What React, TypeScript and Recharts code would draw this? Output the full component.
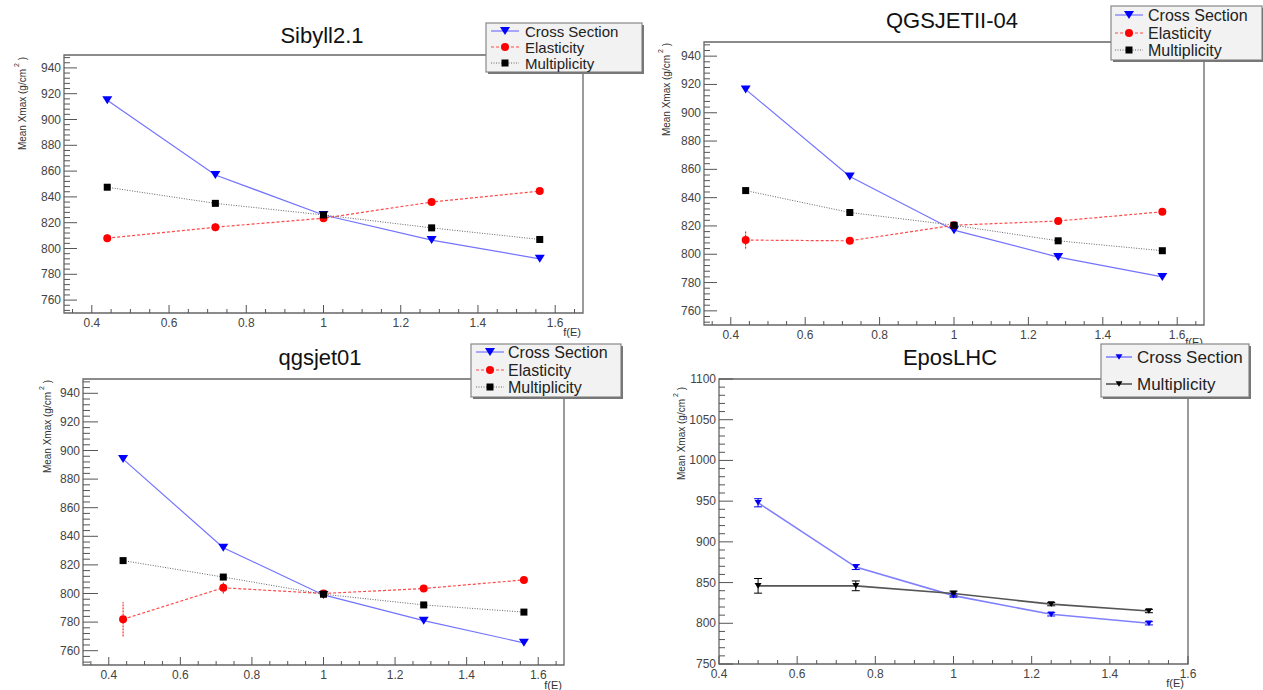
import React from 'react';
import { LineChart, Line, XAxis, YAxis, ReferenceArea, ErrorBar } from 'recharts';

const CANVAS_W = 1263;
const CANVAS_H = 690;
const FONT = '"Liberation Sans", Arial, Helvetica, sans-serif';

// energy scaling factor f(E) used in each simulation
const scaleFactors = [0.44, 0.72, 1.0, 1.28, 1.56];
const eposFactors = [0.5, 0.75, 1.0, 1.25, 1.5];

// Sibyll2.1 mean Xmax (g/cm2)
const sibyllCross = [915, 857, 826, 806.5, 792];
const sibyllCrossErr = [1.5, 1.5, 1.5, 1.5, 1.5];
const sibyllElast = [808, 816.5, 823.5, 836, 844.5];
const sibyllElastErr = [3, 3, 2, 2, 1.5];
const sibyllMult = [847.5, 835, 826, 816, 807];
const sibyllMultErr = [1, 1, 1, 1, 1];

// QGSJETII-04
const qgsIICross = [916.5, 855, 817, 798, 784];
const qgsIICrossErr = [1.5, 1.5, 1.5, 1.5, 1.5];
const qgsIIElast = [810, 809.5, 820.5, 823.5, 830];
const qgsIIElastErr = [6, 2, 2, 2, 1.5];
const qgsIIMult = [845, 829.5, 820.5, 809.5, 802.5];
const qgsIIMultErr = [1, 1, 1, 1, 1];

// qgsjet01
const qgs01Cross = [894, 832, 799, 781, 765.5];
const qgs01CrossErr = [1.5, 1.5, 1.5, 1.5, 1.5];
const qgs01Elast = [782, 804, 800, 803.5, 809.5];
const qgs01ElastErr = [12, 4, 2, 2, 1.5];
const qgs01Mult = [823, 811.5, 799.5, 792, 787];
const qgs01MultErr = [1, 1, 1, 1, 1];

// EposLHC
const eposCross = [948, 869, 834, 811, 800];
const eposCrossErr = [5, 3, 2, 2, 2];
const eposMult = [846, 846, 836.5, 823.5, 815];
const eposMultErr = [9, 6, 3, 2, 2];

// axis labels
const xLabels = [0.4, 0.6, 0.8, 1, 1.2, 1.4, 1.6];
const xmaxLabels = [760, 780, 800, 820, 840, 860, 880, 900, 920, 940];
const eposLabels = [750, 800, 850, 900, 950, 1000, 1050, 1100];

const steps = (from: number, to: number, step: number) => {
  const n = Math.round((to - from) / step);
  return Array.from({ length: n + 1 }, (_, i) => +(from + i * step).toFixed(4));
};

type MarkerKind = 'tri' | 'circle' | 'square';
interface SeriesStyle {
  stroke: string;
  width: number;
  dash?: string;
  marker: MarkerKind;
  color: string;
  size: number;
  cap: number;
  errDash?: string;
}
interface Series { name: string; values: number[]; errors: number[]; style: SeriesStyle }

const crossStyle: SeriesStyle = { stroke: '#7373ff', width: 1.2, marker: 'tri', color: '#0000ff', size: 10, cap: 0 };
const elastStyle: SeriesStyle = { stroke: '#ff4a4a', width: 1.2, dash: '3 2', marker: 'circle', color: '#ff0000', size: 8, cap: 0, errDash: '2 1' };
const multStyle: SeriesStyle = { stroke: '#666', width: 1, dash: '1 1.5', marker: 'square', color: '#000', size: 7, cap: 0 };
const eposCrossStyle: SeriesStyle = { stroke: '#8080ff', width: 1.6, marker: 'tri', color: '#0000ee', size: 7, cap: 4 };
const eposMultStyle: SeriesStyle = { stroke: '#555', width: 1.6, marker: 'tri', color: '#000', size: 7, cap: 4 };

interface Box { left: number; top: number; right: number; bottom: number }
interface PanelDef {
  title: string;
  xs: number[];
  series: Series[];
  frame: Box;
  xDomain: [number, number];
  yDomain: [number, number];
  xTicks: number[];
  yTicks: number[];
  yMajors: number[];
  yTickLen: [number, number];
  titleAt: [number, number];
  yTitleAt: [number, number];
  xTitleAt: [number, number];
  legend: Box & { rows: number[]; sample: [number, number]; textX: number; fontSize: number };
}

const panels: PanelDef[] = [
  {
    title: 'Sibyll2.1',
    xs: scaleFactors,
    series: [
      { name: 'Cross Section', values: sibyllCross, errors: sibyllCrossErr, style: crossStyle },
      { name: 'Elasticity', values: sibyllElast, errors: sibyllElastErr, style: elastStyle },
      { name: 'Multiplicity', values: sibyllMult, errors: sibyllMultErr, style: multStyle },
    ],
    frame: { left: 64, top: 55, right: 583, bottom: 313 },
    xDomain: [0.328, 1.672],
    yDomain: [750, 950],
    xTicks: steps(0.35, 1.65, 0.05),
    yTicks: steps(752, 948, 4),
    yMajors: xmaxLabels,
    yTickLen: [13, 6],
    titleAt: [322, 35],
    yTitleAt: [22, 57],
    xTitleAt: [581, 332],
    legend: { left: 486, top: 23, right: 642, bottom: 72, rows: [31, 47, 63], sample: [491, 519], textX: 525, fontSize: 15 },
  },
  {
    title: 'QGSJETII-04',
    xs: scaleFactors,
    series: [
      { name: 'Cross Section', values: qgsIICross, errors: qgsIICrossErr, style: crossStyle },
      { name: 'Elasticity', values: qgsIIElast, errors: qgsIIElastErr, style: elastStyle },
      { name: 'Multiplicity', values: qgsIIMult, errors: qgsIIMultErr, style: multStyle },
    ],
    frame: { left: 704, top: 42, right: 1204, bottom: 325 },
    xDomain: [0.328, 1.672],
    yDomain: [750, 950],
    xTicks: steps(0.35, 1.65, 0.05),
    yTicks: steps(752, 948, 4),
    yMajors: xmaxLabels,
    yTickLen: [13, 6],
    titleAt: [952, 20],
    yTitleAt: [666, 43],
    xTitleAt: [1203, 342],
    legend: { left: 1111, top: 6, right: 1262, bottom: 60, rows: [15, 33, 50], sample: [1115, 1143], textX: 1148, fontSize: 16 },
  },
  {
    title: 'qgsjet01',
    xs: scaleFactors,
    series: [
      { name: 'Cross Section', values: qgs01Cross, errors: qgs01CrossErr, style: crossStyle },
      { name: 'Elasticity', values: qgs01Elast, errors: qgs01ElastErr, style: elastStyle },
      { name: 'Multiplicity', values: qgs01Mult, errors: qgs01MultErr, style: multStyle },
    ],
    frame: { left: 83, top: 379, right: 564, bottom: 665 },
    xDomain: [0.328, 1.672],
    yDomain: [750, 950],
    xTicks: steps(0.35, 1.65, 0.05),
    yTicks: steps(752, 948, 4),
    yMajors: xmaxLabels,
    yTickLen: [15, 7],
    titleAt: [320, 357],
    yTitleAt: [47, 380],
    xTitleAt: [562, 685],
    legend: { left: 471, top: 344, right: 621, bottom: 397, rows: [352, 370, 387], sample: [476, 504], textX: 508, fontSize: 16 },
  },
  {
    title: 'EposLHC',
    xs: eposFactors,
    series: [
      { name: 'Cross Section', values: eposCross, errors: eposCrossErr, style: eposCrossStyle },
      { name: 'Multiplicity', values: eposMult, errors: eposMultErr, style: eposMultStyle },
    ],
    frame: { left: 719, top: 379, right: 1188, bottom: 664 },
    xDomain: [0.4, 1.6],
    yDomain: [750, 1100],
    xTicks: steps(0.4, 1.6, 0.05),
    yTicks: steps(750, 1100, 10),
    yMajors: eposLabels,
    yTickLen: [14, 6],
    titleAt: [950, 357],
    yTitleAt: [681, 387],
    xTitleAt: [1184, 683],
    legend: { left: 1101, top: 344, right: 1249, bottom: 397, rows: [357, 384], sample: [1106, 1132], textX: 1137, fontSize: 17 },
  },
];

const isMajor = (v: number, majors: number[]) => majors.some((m) => Math.abs(m - v) < 1e-6);
const fmt = (v: number) => String(+v.toFixed(2));

function Marker({ cx, cy, style }: { cx: number; cy: number; style: SeriesStyle }) {
  const s = style.size;
  if (style.marker === 'tri') {
    const h = s * 0.8;
    return <polygon points={`${cx - s / 2},${cy - h / 2} ${cx + s / 2},${cy - h / 2} ${cx},${cy + h / 2}`} fill={style.color} />;
  }
  if (style.marker === 'circle') return <circle cx={cx} cy={cy} r={s / 2} fill={style.color} />;
  return <rect x={cx - s / 2} y={cy - s / 2} width={s} height={s} fill={style.color} />;
}

function XTick(props: any) {
  const { x, y, payload } = props;
  const major = isMajor(payload.value, xLabels);
  return (
    <g>
      <line x1={x} x2={x} y1={y} y2={y - (major ? 8 : 4)} stroke="#555" />
      {major && (
        <text x={x} y={y + 10} textAnchor="middle" dominantBaseline="central" fontSize={12} fontFamily={FONT} fill="#444">
          {fmt(payload.value)}
        </text>
      )}
    </g>
  );
}

function YTick(props: any) {
  const { x, y, payload, majors, len } = props;
  const major = isMajor(payload.value, majors);
  return (
    <g>
      <line x1={x} x2={x + (major ? len[0] : len[1])} y1={y} y2={y} stroke="#555" />
      {major && (
        <text x={x - 3} y={y} textAnchor="end" dominantBaseline="central" fontSize={12} fontFamily={FONT} fill="#444">
          {fmt(payload.value)}
        </text>
      )}
    </g>
  );
}

function LegendBox({ def }: { def: PanelDef }) {
  const lg = def.legend;
  return (
    <g>
      <rect x={lg.left} y={lg.top} width={lg.right - lg.left} height={lg.bottom - lg.top} fill="#f2f2f2" stroke="#888" strokeWidth={1.2} />
      <line x1={lg.right + 1} x2={lg.right + 1} y1={lg.top + 2} y2={lg.bottom + 1} stroke="#777" strokeWidth={2} />
      <line x1={lg.left + 2} x2={lg.right + 2} y1={lg.bottom + 1} y2={lg.bottom + 1} stroke="#777" strokeWidth={2} />
      {def.series.map((s, k) => {
        const y = lg.rows[k];
        const mid = (lg.sample[0] + lg.sample[1]) / 2;
        return (
          <g key={s.name}>
            <line x1={lg.sample[0]} x2={lg.sample[1]} y1={y} y2={y} stroke={s.style.stroke} strokeWidth={s.style.width} strokeDasharray={s.style.dash} />
            <Marker cx={mid} cy={y} style={s.style} />
            <text x={lg.textX} y={y} dominantBaseline="central" fontSize={lg.fontSize} fontFamily={FONT} fill="#222">
              {s.name}
            </text>
          </g>
        );
      })}
    </g>
  );
}

const Y_AXIS_W = 40;
const X_AXIS_H = 24;

function Panel({ def }: { def: PanelDef }) {
  const data = def.xs.map((x, i) => {
    const row: Record<string, number> = { x };
    def.series.forEach((s, k) => {
      row[`s${k}`] = s.values[i];
      row[`e${k}`] = s.errors[i];
    });
    return row;
  });
  const { left, top, right, bottom } = def.frame;

  return (
    <>
      <div style={{ position: 'absolute', left: 0, top: 0 }}>
        <LineChart
          width={CANVAS_W}
          height={CANVAS_H}
          data={data}
          margin={{ left: left - Y_AXIS_W, top, right: CANVAS_W - right, bottom: CANVAS_H - bottom - X_AXIS_H }}
        >
          <XAxis
            type="number"
            dataKey="x"
            domain={def.xDomain}
            allowDataOverflow
            ticks={def.xTicks}
            interval={0}
            tickSize={0}
            tickMargin={0}
            axisLine={false}
            height={X_AXIS_H}
            tick={(p: any) => <XTick {...p} />}
          />
          <YAxis
            type="number"
            domain={def.yDomain}
            allowDataOverflow
            ticks={def.yTicks}
            interval={0}
            tickSize={0}
            tickMargin={0}
            axisLine={false}
            width={Y_AXIS_W}
            tick={(p: any) => <YTick {...p} majors={def.yMajors} len={def.yTickLen} />}
          />
          <ReferenceArea
            x1={def.xDomain[0]}
            x2={def.xDomain[1]}
            y1={def.yDomain[0]}
            y2={def.yDomain[1]}
            fill="none"
            stroke="#666"
            strokeWidth={1.3}
          />
          {def.series.map((s, k) => (
            <Line
              key={s.name}
              type="linear"
              dataKey={`s${k}`}
              stroke={s.style.stroke}
              strokeWidth={s.style.width}
              strokeDasharray={s.style.dash}
              isAnimationActive={false}
              dot={(p: any) => <Marker key={`m${k}-${p.index}`} cx={p.cx} cy={p.cy} style={s.style} />}
              activeDot={false}
            >
              <ErrorBar
                dataKey={`e${k}`}
                direction="y"
                width={s.style.cap}
                stroke={s.style.color}
                strokeWidth={1}
                strokeDasharray={s.style.errDash}
              />
            </Line>
          ))}
        </LineChart>
      </div>
      <svg width={CANVAS_W} height={CANVAS_H} style={{ position: 'absolute', left: 0, top: 0, pointerEvents: 'none' }}>
        <text x={def.titleAt[0]} y={def.titleAt[1]} textAnchor="middle" dominantBaseline="central" fontSize={22} fontFamily={FONT} fill="#111">
          {def.title}
        </text>
        <text
          transform={`translate(${def.yTitleAt[0]},${def.yTitleAt[1]}) rotate(-90)`}
          textAnchor="end"
          dominantBaseline="central"
          fontSize={10}
          fontFamily={FONT}
          fill="#333"
        >
          Mean Xmax (g/cm
          <tspan dy={-6} fontSize={7}> 2</tspan>
          <tspan dy={6}> )</tspan>
        </text>
        <text x={def.xTitleAt[0]} y={def.xTitleAt[1]} textAnchor="end" dominantBaseline="central" fontSize={11} fontFamily={FONT} fill="#333">
          f(E)
        </text>
        <LegendBox def={def} />
      </svg>
    </>
  );
}

export default function App() {
  return (
    <div style={{ position: 'absolute', left: 0, top: 0, width: CANVAS_W, height: CANVAS_H, background: '#fff', overflow: 'hidden' }}>
      {panels.map((p) => (
        <Panel key={p.title} def={p} />
      ))}
    </div>
  );
}
